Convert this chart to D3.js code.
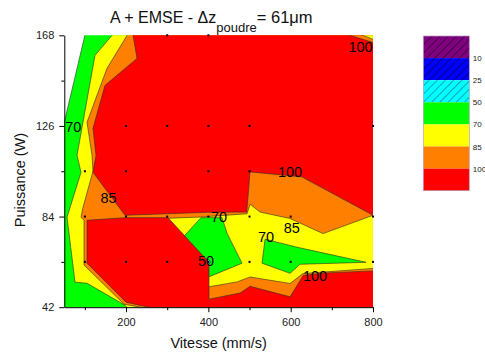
<!DOCTYPE html>
<html><head><meta charset="utf-8">
<script src="https://cdn.jsdelivr.net/npm/d3@7"></script>
<style>
body{margin:0;background:#fff;}
svg{display:block;font-family:'Liberation Sans',Arial,sans-serif;}
</style>
</head><body>
<svg id="chart" width="485" height="354"></svg>
<script>
// ---------- data ----------
const xTicks = [200, 400, 600, 800];
const xMinorTicks = [100, 300, 500, 700];
const yTicks = [42, 84, 126, 168];
const yMinorTicks = [63, 105, 147];
const levels = [10, 25, 50, 70, 85, 100];
const levelColors = ["#800080", "#0000ff", "#00ffff", "#00ff00", "#ffff00", "#ff8000", "#ff0000"];
const levelHatched = [true, true, true, false, false, false, false];

// contour band outlines, [vitesse (mm/s), puissance (W)]
const hull = [[48,40],[810,40],[810,170],[102.5,170],[48,126.1]];
const above70Left = [[175,170],[124.6,158.7],[80.9,112.4],[90.6,104.5],[56.6,83.7],[76,53.6],[105.2,53.1],[197.5,42.9],[205,41],[810,41],[810,170]];
const above85Left = [[209,170],[153.8,152.7],[105.2,127.7],[117.3,112.4],[119.7,105],[94.7,87.7],[90.6,83.7],[97.9,82.3],[97.9,61.5],[195.1,43.4],[263,41],[810,41],[810,170]];
const below85Mid = [[258.3,77.7],[302,83.2],[382.2,83.8],[494,85.3],[501.3,89.7],[525.6,86.1],[598.5,83.1],[678.7,76.1],[810,85.3],[810,60.1],[630,57.6],[598.5,53],[501.3,56],[469.7,53.7],[399.2,51.4],[367.6,49.9]];
const below70MidA = [[338.4,74.4],[382.2,83.5],[433.2,83.5],[445.4,76.3],[481.8,62.4],[399.2,55.9],[387,55.9],[379.7,62.8]];
const below70MidB = [[537.7,73.5],[615.5,69.8],[783.1,62.8],[622.8,61.9],[598.5,57.7],[530.4,62.4]];
const above100Upper = [[215.2,170],[810,170],[810,83.6],[626.9,102.4],[501.3,104.7],[493.2,86.1],[399.9,86],[197.5,84.6],[119.7,104.5],[127,112.4],[119.7,124.9],[148.9,144.8],[226.7,157.3]];
const above100Lower = [[105.2,82.3],[199.9,83.5],[302,83.5],[401.6,62.8],[401.6,45.7],[477,48.6],[501.3,51.7],[598.5,46.8],[630.8,56.8],[687.6,57.9],[810,58.9],[810,40],[302,40],[199.9,44.3],[105.2,62.4]];
const below50Spot = [[396.8,64.7],[406.5,62.8],[399.2,61.9]];
const cornerBelow100 = [[710,170],[810,170],[810,164.1]];
const cornerBelow85 = [[750,170],[810,170],[810,165.3]];

// measurement points (black dots)
const pointsV = [300,400, 200,300,400,500,800, 100,200,400,500, 100,200,300,400,500,600,800, 100,200,300,400,500,600,800];
const pointsP = [168,168, 126,126,126,126,126, 105,105,105,105, 84,84,84,84,84,84,84, 63,63,63,63,63,63,63];

// contour labels
const labelText = ["100","70","85","70","50","100","85","70","100"];
const labelV = [769.8, 71.9, 157.4, 425.9, 394.3, 598.5, 602.6, 540.1, 659.2];
const labelP = [160.1, 123.1, 90.2, 81.4, 61.0, 102.2, 76.3, 72.3, 54.0];

// ---------- drawing ----------
const svg = d3.select("#chart");
const x = d3.scaleLinear().domain([50, 800]).range([64.3, 373]);
const y = d3.scaleLinear().domain([42, 168]).range([307.2, 35.3]);

const defs = svg.append("defs");
defs.append("clipPath").attr("id", "plotclip").append("rect")
  .attr("x", x(50)).attr("y", y(168)).attr("width", x(800) - x(50)).attr("height", y(42) - y(168));

levelColors.forEach((c, i) => {
  if (!levelHatched[i]) return;
  const p = defs.append("pattern").attr("id", "hatch" + i)
    .attr("patternUnits", "userSpaceOnUse").attr("width", 5.8).attr("height", 5.8)
    .attr("patternTransform", "rotate(45)");
  p.append("rect").attr("width", 5.8).attr("height", 5.8).attr("fill", c);
  p.append("line").attr("x1", 0).attr("y1", 0).attr("x2", 0).attr("y2", 5.8)
    .attr("stroke", i === 2 ? "#104060" : "#000").attr("stroke-width", 0.9);
});
const fillFor = i => levelHatched[i] ? "url(#hatch" + i + ")" : levelColors[i];

const layers = [
  [hull, 3], [above70Left, 4], [above85Left, 5], [below85Mid, 4],
  [below70MidA, 3], [below70MidB, 3], [above100Upper, 6], [above100Lower, 6],
  [below50Spot, 2], [cornerBelow100, 5], [cornerBelow85, 4]
];
const line = d3.line().x(d => x(d[0])).y(d => y(d[1]));
const plot = svg.append("g").attr("clip-path", "url(#plotclip)");
plot.selectAll("path.band").data(layers).join("path")
  .attr("class", "band")
  .attr("d", d => line(d[0]) + "Z")
  .attr("fill", d => levelColors[d[1]])
  .attr("stroke", "#2a2a2a").attr("stroke-width", 0.6).attr("stroke-linejoin", "round");

// points
const pts = pointsV.map((v, i) => [v, pointsP[i]]);
svg.append("g").selectAll("rect").data(pts).join("rect")
  .attr("x", d => x(d[0]) - 1).attr("y", d => y(d[1]) - 1)
  .attr("width", 2).attr("height", 2).attr("fill", "#000");

// contour labels
svg.append("g").selectAll("text").data(labelText).join("text")
  .attr("x", (d, i) => x(labelV[i])).attr("y", (d, i) => y(labelP[i]))
  .attr("text-anchor", "middle").attr("font-size", 14.5).attr("fill", "#000")
  .text(d => d);

// axes
svg.append("g").attr("transform", `translate(${x(50)},0)`)
  .call(d3.axisLeft(y).tickValues(yTicks).tickSize(5).tickSizeOuter(0).tickPadding(5).tickFormat(d3.format("d")));
svg.append("g").attr("transform", `translate(${x(50)},0)`)
  .call(d3.axisLeft(y).tickValues(yMinorTicks).tickSize(3).tickFormat(""))
  .call(g => g.select(".domain").remove());
svg.append("g").attr("transform", `translate(0,${y(42)})`)
  .call(d3.axisBottom(x).tickValues(xTicks).tickSize(5).tickSizeOuter(0).tickPadding(6).tickFormat(d3.format("d")));
svg.append("g").attr("transform", `translate(0,${y(42)})`)
  .call(d3.axisBottom(x).tickValues(xMinorTicks).tickSize(3).tickFormat(""))
  .call(g => g.select(".domain").remove());
svg.selectAll(".tick text").attr("font-size", 11).attr("fill", "#222")
  .attr("font-family", "'Liberation Sans',Arial,sans-serif");
svg.selectAll(".domain, .tick line").attr("stroke", "#000").attr("stroke-width", 1);

// axis titles
svg.append("text").attr("x", (x(50) + x(800)) / 2).attr("y", 347.5)
  .attr("text-anchor", "middle").attr("font-size", 14.5).attr("fill", "#111")
  .text("Vitesse (mm/s)");
svg.append("text").attr("transform", "translate(25,180) rotate(-90)")
  .attr("text-anchor", "middle").attr("font-size", 14.5).attr("fill", "#111")
  .text("Puissance (W)");

// title
const t = svg.append("text").attr("x", 110).attr("y", 23.3)
  .attr("text-anchor", "start").style("font-size", "16px").attr("fill", "#111");
t.append("tspan").style("font-size", "16px").text("A + EMSE - \u0394z");
t.append("tspan").style("font-size", "13px").attr("dy", 8.4).text("poudre");
t.append("tspan").style("font-size", "16.5px").attr("dy", -8.4).text("= 61\u03bcm");

// legend
const legX = 423.3, legY = 36, legW = 46, legH = 22.1;
const leg = svg.append("g");
leg.selectAll("rect").data(levelColors).join("rect")
  .attr("x", legX).attr("y", (d, i) => legY + i * legH)
  .attr("width", legW).attr("height", legH)
  .attr("fill", (d, i) => fillFor(i));
leg.append("rect").attr("x", legX).attr("y", legY).attr("width", legW)
  .attr("height", legH * levelColors.length).attr("fill", "none")
  .attr("stroke", "#b8a0c0").attr("stroke-width", 0.7);
leg.selectAll("text").data(levels).join("text")
  .attr("x", legX + legW + 3.5).attr("y", (d, i) => legY + (i + 1) * legH + 3)
  .attr("font-size", 8).attr("fill", "#222").text(d => d);
</script>
</body></html>
